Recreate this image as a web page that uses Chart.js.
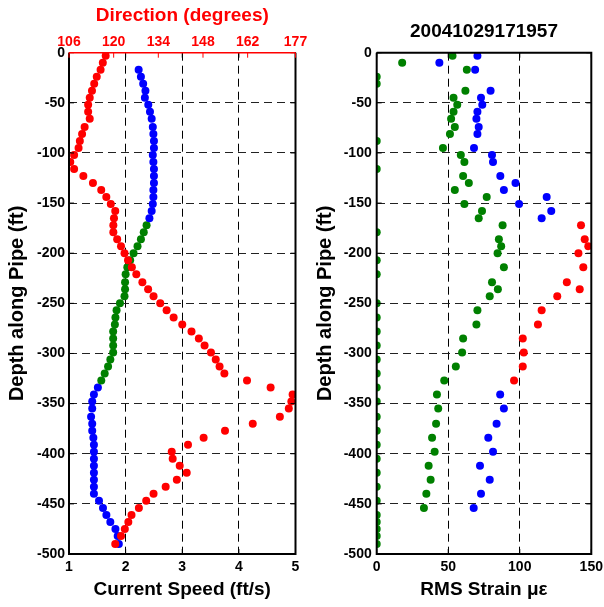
<!DOCTYPE html>
<html>
<head>
<meta charset="utf-8">
<script src="https://cdn.jsdelivr.net/npm/chart.js@4.4.1/dist/chart.umd.min.js"></script>
<style>
  html, body { margin: 0; padding: 0; background: #fff; }
  #wrap { position: relative; width: 604px; height: 607px; }
  canvas { position: absolute; top: 0; }
  #left { left: 0; }
  #right { left: 302px; }
</style>
</head>
<body>
<div id="wrap">
  <canvas id="left" width="330" height="607"></canvas>
  <canvas id="right" width="302" height="607"></canvas>
</div>
<script>
// depth of each measurement (ft), shared by both panels
const depth = [-3, -10, -17, -24, -31, -38, -45, -52, -59, -66,
  -74, -81, -88, -95, -102, -109, -116, -123, -130, -137,
  -144, -151, -158, -165, -172, -179, -186, -193, -200, -207,
  -214, -221, -229, -236, -243, -250, -257, -264, -271, -278,
  -285, -292, -299, -306, -313, -320, -327, -334, -341, -348,
  -355, -363, -370, -377, -384, -391, -398, -405, -412, -419,
  -426, -433, -440, -447, -454, -461, -468, -475, -482, -490]

// current direction (degrees), one per depth
const direction = [117.5, 116.6, 115.9, 114.7, 113.9, 113.2, 112.5, 112.0, 112.0, 112.5,
  110.9, 110.1, 109.4, 109.0, 107.6, 106.4, 107.6, 110.5, 113.5, 116.1,
  117.7, 119.1, 120.5, 120.1, 119.9, 119.9, 121.1, 122.3, 123.4, 124.5,
  125.7, 127.1, 129.0, 130.8, 132.5, 134.6, 136.6, 138.8, 141.5, 144.4,
  146.7, 148.5, 150.5, 152.0, 153.2, 154.7, 161.8, 169.2, 176.1, 175.7,
  174.9, 172.1, 163.6, 154.9, 148.2, 143.3, 138.2, 138.5, 140.7, 142.9,
  139.8, 136.3, 132.5, 130.2, 127.9, 125.6, 124.6, 123.5, 122.3, 120.5]

// current speed (ft/s): upper blue run (depth index 2-23), green run (24-46), lower blue run (47-69)
const speedUpper = [2.23, 2.27, 2.31, 2.35, 2.34, 2.40, 2.43, 2.46, 2.48, 2.49, 2.50,
  2.50, 2.48, 2.49, 2.50, 2.50, 2.50, 2.49, 2.49, 2.48, 2.46, 2.42]
const speedMiddle = [2.37, 2.32, 2.27, 2.21, 2.14, 2.08, 2.03, 2.00, 1.99, 1.99, 1.98,
  1.90, 1.84, 1.82, 1.81, 1.78, 1.78, 1.78, 1.78, 1.73, 1.69, 1.63, 1.57]
const speedLower = [1.51, 1.44, 1.41, 1.41, 1.39, 1.41, 1.41, 1.43, 1.44, 1.44, 1.44,
  1.44, 1.44, 1.44, 1.44, 1.44, 1.53, 1.60, 1.66, 1.73, 1.82, 1.86, 1.88]

// RMS strain (microstrain), one slot per depth, null = no point
const strainGreen = [53, 17.8, 63, 0, 0, 62, 53.7, 56.3, 53.7, 52,
  54.6, 51.2, 0, 46.3, 58.8, 61.3, 0, 60.4, 64.4, 54.6,
  76.9, 61.3, 73.6, 71.3, 88, 0, 85.4, 87, 84.5, 0,
  88.9, 0, 80.6, 84.7, 79, 0, 70.4, 0, 69.7, 0,
  60.4, 0, 59.7, 0, 55.3, 0, 47.2, 0, 42.1, 0,
  43, 0, 41.5, 0, 38.7, 0, 40.5, 0, 36.3, 0,
  37.7, 0, 34.7, 0, 33, 0, 0, 0, 0, 0]
const strainBlue = [70.4, 43.8, 68.8, null, null, 79.6, 72.9, 73.8, 70.4, 69.7,
  71.3, 70.4, null, 68, 80.6, 81.3, null, 86.4, 97, 88.9,
  118.8, 99.5, 122, 115.3, null, null, null, null, null, null,
  null, null, null, null, null, null, null, null, null, null,
  null, null, null, null, null, null, null, null, 86.3, null,
  88.9, null, 83.8, null, 78, null, 81.3, null, 72.2, null,
  79, null, 72.9, null, 67.8, null, null, null, null, null]
const strainRed = [null, null, null, null, null, null, null, null, null, null,
  null, null, null, null, null, null, null, null, null, null,
  null, null, null, null, 142.8, null, 145.4, 147.9, 141, null,
  144.4, null, 132.9, 141.9, 126.2, null, 115.3, null, 112.7, null,
  102.1, null, 102.8, null, 102.1, null, 96, null, null, null,
  null, null, null, null, null, null, null, null, null, null,
  null, null, null, null, null, null, null, null, null, null]

const directionTicks = [106, 120, 134, 148, 162, 177]
const strainTitle = '20041029171957'

const RED = '#ff0000'
const BLUE = '#0000ff'
const GREEN = '#008000'
const FONT = 'Liberation Sans, Arial, Helvetica, sans-serif'
const tickFont = { family: FONT, size: 14, weight: 'bold' }
const titleFont = { family: FONT, size: 19, weight: 'bold' }
const yTitleFont = { family: FONT, size: 20, weight: 'bold' }

const pts = (xs, ds) => xs.map((v, i) => (v === null ? null : { x: v, y: ds[i] })).filter((p) => p)

// stop chart.js from reserving room for overhanging end labels
const noOverhang = (s) => {
    s.paddingLeft = 0
    s.paddingRight = 0
    s.paddingTop = 0
    s.paddingBottom = 0
}

// solid box + small inward tick marks, matlab style
const framePlugin = {
    id: 'frame',
    afterDraw(chart) {
        const { ctx, chartArea: a, scales } = chart
        ctx.save()
        ctx.lineWidth = 1
        ctx.strokeStyle = '#000'
        const tl = 5
        scales.x.ticks.forEach((t) => {
            const px = scales.x.getPixelForValue(t.value)
            ctx.beginPath()
            ctx.moveTo(px, a.bottom); ctx.lineTo(px, a.bottom - tl)
            ctx.moveTo(px, a.top); ctx.lineTo(px, a.top + tl)
            ctx.stroke()
        })
        scales.y.ticks.forEach((t) => {
            const py = scales.y.getPixelForValue(t.value)
            ctx.beginPath()
            ctx.moveTo(a.left, py); ctx.lineTo(a.left + tl, py)
            ctx.moveTo(a.right, py); ctx.lineTo(a.right - tl, py)
            ctx.stroke()
        })
        ctx.lineWidth = 2
        ctx.beginPath()
        ctx.moveTo(a.left, a.top); ctx.lineTo(a.left, a.bottom)
        ctx.lineTo(a.right, a.bottom); ctx.lineTo(a.right, a.top)
        if (!scales.x2) ctx.lineTo(a.left, a.top)
        ctx.stroke()
        if (scales.x2) {
            ctx.strokeStyle = RED
            ctx.lineWidth = 1.5
            ctx.beginPath()
            ctx.moveTo(a.left, a.top); ctx.lineTo(a.right, a.top)
            ctx.stroke()
            ctx.lineWidth = 1
            scales.x2.ticks.forEach((t) => {
                const px = scales.x2.getPixelForValue(t.value)
                ctx.beginPath()
                ctx.moveTo(px, a.top); ctx.lineTo(px, a.top + tl)
                ctx.stroke()
            })
        }
        ctx.restore()
    },
}

// title centred over the plot box rather than the canvas
const boxTitlePlugin = {
    id: 'boxTitle',
    afterDraw(chart) {
        const { ctx, chartArea: a } = chart
        ctx.save()
        ctx.font = `bold ${titleFont.size}px ${FONT}`
        ctx.fillStyle = '#000'
        ctx.textAlign = 'center'
        ctx.textBaseline = 'middle'
        ctx.fillText(strainTitle, (a.left + a.right) / 2, 32)
        ctx.restore()
    },
}

const depthAxis = (width, titlePad, tickPad) => ({
    type: 'linear',
    min: -500,
    max: 0,
    ticks: { stepSize: 50, color: '#000', font: tickFont, padding: tickPad },
    grid: { color: '#222', lineWidth: 1, drawTicks: false },
    border: { display: false, dash: [8, 5] },
    title: { display: true, text: 'Depth along Pipe (ft)', color: '#000', font: yTitleFont, padding: { top: titlePad, bottom: 0 } },
    afterFit(s) {
        s.width = width
        noOverhang(s)
    },
})

const baseOptions = {
    responsive: false,
    animation: false,
    plugins: { legend: { display: false }, tooltip: { enabled: false } },
    elements: { point: { radius: 4, borderWidth: 0, hoverRadius: 4 } },
}

new Chart(document.getElementById('left'), {
    type: 'scatter',
    data: {
        datasets: [
            { label: 'Direction', xAxisID: 'x2', data: pts(direction, depth), backgroundColor: RED },
            { label: 'Speed', data: pts(speedUpper, depth.slice(2, 24)), backgroundColor: BLUE },
            { label: 'Speed', data: pts(speedMiddle, depth.slice(24, 47)), backgroundColor: GREEN },
            { label: 'Speed', data: pts(speedLower, depth.slice(47)), backgroundColor: BLUE },
        ],
    },
    options: {
        ...baseOptions,
        layout: { padding: { left: 0, right: 34.5, top: 0, bottom: 0 } },
        scales: {
            x: {
                type: 'linear',
                position: 'bottom',
                min: 1,
                max: 5,
                ticks: { stepSize: 1, color: '#000', font: tickFont, padding: 4.6 },
                grid: { color: '#000', lineWidth: 1, drawTicks: false },
                border: { display: false, dash: [8, 5] },
                title: { display: true, text: 'Current Speed (ft/s)', color: '#000', font: titleFont, padding: { top: 0, bottom: 5.6 } },
                afterFit(s) {
                    s.height = 53
                    noOverhang(s)
                },
            },
            x2: {
                type: 'linear',
                position: 'top',
                min: 106,
                max: 177,
                afterBuildTicks(s) { s.ticks = directionTicks.map((v) => ({ value: v })) },
                ticks: { color: RED, font: tickFont, padding: 2 },
                grid: { display: false, drawTicks: false },
                border: { display: false },
                title: { display: true, text: 'Direction (degrees)', color: RED, font: titleFont, padding: { top: 4.6, bottom: 0 } },
                afterFit(s) {
                    s.height = 52.7
                    noOverhang(s)
                },
            },
            y: depthAxis(69, 5, 4),
        },
    },
    plugins: [framePlugin],
})

new Chart(document.getElementById('right'), {
    type: 'scatter',
    data: {
        datasets: [
            { label: 'Strain', data: pts(strainRed, depth), backgroundColor: RED },
            { label: 'Strain', data: pts(strainBlue, depth), backgroundColor: BLUE },
            { label: 'Strain', data: pts(strainGreen, depth), backgroundColor: GREEN },
        ],
    },
    options: {
        ...baseOptions,
        layout: { padding: { left: 0, right: 12.7, top: 52.7, bottom: 0 } },
        scales: {
            x: {
                type: 'linear',
                position: 'bottom',
                min: 0,
                max: 150,
                ticks: { stepSize: 50, color: '#000', font: tickFont, padding: 4.6 },
                grid: { color: '#000', lineWidth: 1, drawTicks: false },
                border: { display: false, dash: [8, 5] },
                title: { display: true, text: 'RMS Strain \u03bc\u03b5', color: '#000', font: titleFont, padding: { top: 0, bottom: 5.6 } },
                afterFit(s) {
                    s.height = 53
                    noOverhang(s)
                },
            },
            y: depthAxis(74.7, 11, 5),
        },
    },
    plugins: [framePlugin, boxTitlePlugin],
})
</script>
</body>
</html>
